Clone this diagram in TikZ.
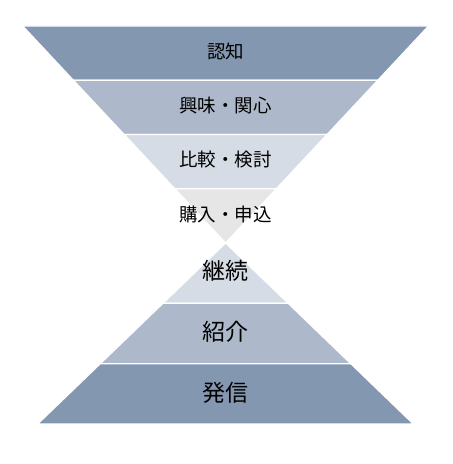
\documentclass[tikz,border=0pt]{standalone}
\usepackage{fontspec}
\newfontfamily\jpfont{Noto Sans CJK JP}
\usetikzlibrary{calc}

\definecolor{bandDark}{HTML}{8497B0}
\definecolor{bandMid}{HTML}{ADB9CA}
\definecolor{bandLight}{HTML}{D6DCE5}
\definecolor{bandGray}{HTML}{E7E6E6}

\begin{document}
\begin{tikzpicture}[
    x=1pt, y=1pt,
    band/.style={draw=white, line width=1.2pt, line join=round},
    upper/.style={font=\jpfont\fontsize{18.5}{20}\selectfont, inner sep=0pt},
    lower/.style={font=\jpfont\fontsize{23}{25}\selectfont, inner sep=0pt}
]
\useasboundingbox (0,0) rectangle (453,464);

\coordinate (fl) at (22.7,438);
\coordinate (fr) at (428.5,438);
\coordinate (tip) at (225.6,221);
\coordinate (pl) at (37.7,40);
\coordinate (pr) at (413.3,40);

% funnel
\foreach \a/\b/\c in {0/0.25/bandDark, 0.25/0.5/bandMid, 0.5/0.75/bandLight, 0.75/1/bandGray}{
   \filldraw[band, fill=\c] ($(fl)!\a!(tip)$) -- ($(fr)!\a!(tip)$) -- ($(fr)!\b!(tip)$) -- ($(fl)!\b!(tip)$) -- cycle;
}

% pyramid
\foreach \a/\b/\c in {0/0.333/bandLight, 0.333/0.667/bandMid, 0.667/1/bandDark}{
   \filldraw[band, fill=\c] ($(tip)!\a!(pl)$) -- ($(tip)!\a!(pr)$) -- ($(tip)!\b!(pr)$) -- ($(tip)!\b!(pl)$) -- cycle;
}

\node[upper] (ninchi) at (225.6,413) {認知};
\node[upper] (kyomi) at (225.6,358) {興味・関心};
\node[upper] (hikaku) at (225.6,304) {比較・検討};
\node[upper] (konyu) at (225.6,250) {購入・申込};

\node[lower] (keizoku) at (225.6,193) {継続};
\node[lower] (shokai) at (225.6,132) {紹介};
\node[lower] (hasshin) at (225.6,71) {発信};

\end{tikzpicture}
\end{document}
